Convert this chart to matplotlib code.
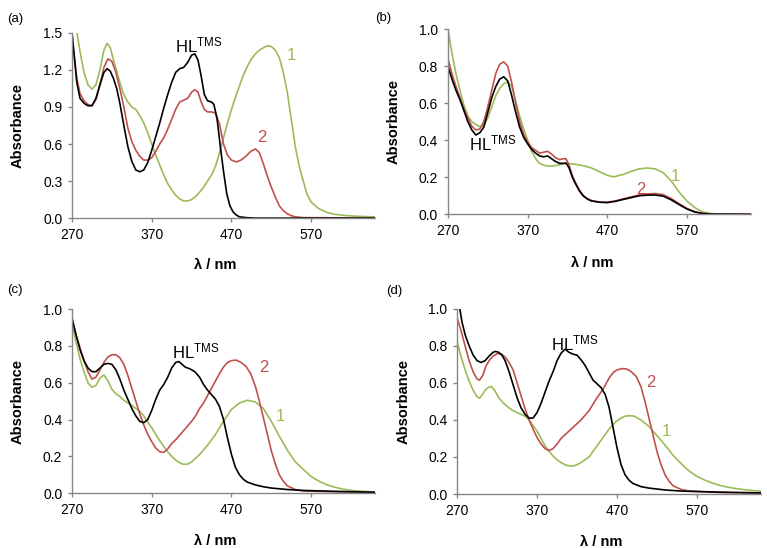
import numpy as np
import matplotlib
matplotlib.use('Agg')
import matplotlib.pyplot as plt

plt.rcParams['font.family'] = ['Liberation Sans', 'DejaVu Sans']
plt.rcParams['mathtext.default'] = 'regular'

# ---- (a) ----
a_hl_x = [270, 273, 276, 280, 285, 290, 295, 300, 305, 310, 314, 318, 322, 326, 330, 335, 340, 345,
          350, 355, 360, 365, 370, 375, 380, 385, 390, 395, 400, 405, 410, 415, 420, 424, 428, 432,
          436, 440, 445, 448, 452, 456, 460, 464, 468, 472, 476, 480, 490, 500, 650]
a_hl_y = [1.49, 1.30, 1.10, 0.97, 0.93, 0.91, 0.91, 0.97, 1.08, 1.18, 1.21, 1.19, 1.13, 1.05, 0.93,
          0.75, 0.58, 0.46, 0.39, 0.375, 0.39, 0.45, 0.55, 0.66, 0.77, 0.89, 1.00, 1.10, 1.18, 1.21,
          1.22, 1.26, 1.32, 1.33, 1.28, 1.15, 1.00, 0.95, 0.94, 0.92, 0.80, 0.58, 0.38, 0.20, 0.10,
          0.05, 0.025, 0.01, 0.003, 0.0, 0.0]
a_2_x = [270, 273, 276, 280, 285, 290, 295, 300, 305, 310, 315, 320, 325, 330, 335, 340, 345, 350,
         355, 360, 365, 370, 375, 380, 385, 390, 395, 400, 405, 410, 415, 420, 424, 428, 432, 436,
         440, 445, 450, 455, 460, 465, 470, 476, 482, 488, 494, 500, 505, 510, 515, 520, 525, 530,
         535, 540, 545, 550, 560, 650]
a_2_y = [1.50, 1.30, 1.13, 1.01, 0.95, 0.92, 0.91, 0.96, 1.08, 1.22, 1.29, 1.27, 1.18, 1.05, 0.90,
         0.73, 0.62, 0.55, 0.50, 0.47, 0.47, 0.49, 0.54, 0.60, 0.65, 0.72, 0.80, 0.88, 0.94, 0.955,
         0.97, 1.02, 1.04, 1.02, 0.94, 0.88, 0.86, 0.86, 0.85, 0.76, 0.60, 0.51, 0.47, 0.455, 0.47,
         0.50, 0.54, 0.56, 0.53, 0.44, 0.34, 0.25, 0.17, 0.10, 0.06, 0.035, 0.02, 0.01, 0.004, 0.0]
a_1_x = [270, 273, 276, 280, 285, 290, 295, 300, 305, 310, 314, 318, 322, 326, 330, 335, 340, 345,
         350, 355, 360, 365, 370, 375, 380, 385, 390, 395, 400, 405, 410, 415, 420, 425, 430, 435,
         440, 445, 450, 455, 460, 465, 470, 475, 480, 485, 490, 495, 500, 505, 510, 515, 520, 525,
         530, 535, 540, 545, 550, 555, 560, 565, 570, 575, 580, 590, 600, 615, 630, 650]
a_1_y = [1.75, 1.62, 1.51, 1.35, 1.18, 1.08, 1.045, 1.08, 1.20, 1.36, 1.415, 1.38, 1.28, 1.19, 1.10,
         1.00, 0.94, 0.90, 0.88, 0.83, 0.77, 0.69, 0.60, 0.51, 0.43, 0.35, 0.28, 0.23, 0.185, 0.155,
         0.14, 0.138, 0.15, 0.175, 0.21, 0.25, 0.30, 0.35, 0.42, 0.53, 0.65, 0.77, 0.88, 0.98, 1.07,
         1.16, 1.23, 1.29, 1.33, 1.36, 1.38, 1.395, 1.39, 1.36, 1.30, 1.18, 1.02, 0.80, 0.58, 0.42,
         0.30, 0.19, 0.13, 0.10, 0.075, 0.045, 0.03, 0.02, 0.014, 0.01]

# ---- (b) ----
b_hl_x = [270, 275, 280, 285, 290, 295, 300, 305, 310, 315, 320, 325, 330, 335, 340, 345, 350, 355,
          360, 365, 370, 375, 380, 385, 390, 395, 400, 405, 410, 415, 418, 422, 426, 430, 435, 440,
          445, 450, 460, 470, 480, 490, 500, 510, 520, 530, 540, 550, 560, 570, 580, 590, 600, 650]
b_hl_y = [0.80, 0.73, 0.67, 0.62, 0.56, 0.50, 0.455, 0.428, 0.44, 0.47, 0.55, 0.63, 0.69, 0.73,
          0.742, 0.72, 0.64, 0.55, 0.47, 0.415, 0.38, 0.35, 0.33, 0.315, 0.31, 0.315, 0.30, 0.285,
          0.275, 0.275, 0.277, 0.25, 0.20, 0.165, 0.125, 0.098, 0.082, 0.072, 0.065, 0.063, 0.07,
          0.08, 0.09, 0.10, 0.103, 0.104, 0.098, 0.078, 0.052, 0.028, 0.012, 0.004, 0.001, 0.0]
b_2_x = b_hl_x
b_2_y = [0.84, 0.76, 0.69, 0.63, 0.57, 0.52, 0.475, 0.455, 0.46, 0.50, 0.58, 0.67, 0.76, 0.81,
         0.823, 0.80, 0.71, 0.60, 0.50, 0.43, 0.39, 0.36, 0.345, 0.33, 0.335, 0.34, 0.325, 0.305,
         0.295, 0.30, 0.30, 0.265, 0.21, 0.17, 0.13, 0.10, 0.084, 0.074, 0.066, 0.065, 0.072, 0.083,
         0.094, 0.104, 0.11, 0.112, 0.106, 0.085, 0.057, 0.031, 0.013, 0.005, 0.001, 0.0]
b_1_x = [270, 275, 280, 285, 290, 295, 300, 305, 310, 315, 320, 325, 330, 335, 340, 345, 350, 355,
         360, 365, 370, 375, 380, 385, 390, 395, 400, 405, 410, 415, 420, 430, 440, 450, 460, 470,
         478, 485, 490, 500, 510, 520, 530, 540, 550, 560, 570, 580, 590, 600, 610, 650]
b_1_y = [1.0, 0.87, 0.76, 0.67, 0.59, 0.53, 0.50, 0.485, 0.472, 0.48, 0.52, 0.58, 0.64, 0.68, 0.705,
         0.715, 0.69, 0.61, 0.53, 0.46, 0.40, 0.34, 0.30, 0.275, 0.265, 0.26, 0.26, 0.263, 0.267,
         0.272, 0.275, 0.27, 0.262, 0.25, 0.23, 0.21, 0.202, 0.21, 0.215, 0.232, 0.245, 0.25, 0.245,
         0.225, 0.18, 0.12, 0.07, 0.035, 0.012, 0.004, 0.001, 0.0]

# ---- (c) ----
c_hl_x = [270, 275, 280, 285, 290, 295, 300, 305, 310, 315, 320, 325, 330, 335, 340, 345, 350, 355,
          360, 365, 370, 375, 380, 385, 390, 395, 400, 404, 408, 412, 418, 424, 430, 435, 440, 445,
          450, 455, 460, 465, 470, 475, 480, 485, 490, 500, 510, 520, 540, 560, 600, 650]
c_hl_y = [0.95, 0.86, 0.78, 0.72, 0.68, 0.66, 0.66, 0.68, 0.70, 0.705, 0.70, 0.67, 0.62, 0.56, 0.51,
          0.46, 0.42, 0.39, 0.383, 0.40, 0.45, 0.51, 0.56, 0.59, 0.63, 0.68, 0.71, 0.715, 0.70, 0.685,
          0.675, 0.66, 0.63, 0.59, 0.56, 0.535, 0.51, 0.47, 0.40, 0.30, 0.21, 0.14, 0.10, 0.075, 0.06,
          0.045, 0.035, 0.028, 0.02, 0.015, 0.01, 0.005]
c_2_x = [270, 275, 280, 285, 290, 295, 300, 305, 310, 315, 320, 325, 330, 335, 340, 345, 350, 355,
         360, 365, 370, 375, 380, 385, 390, 395, 400, 405, 410, 415, 420, 425, 430, 435, 440, 445,
         450, 455, 460, 465, 470, 476, 482, 488, 494, 500, 505, 510, 515, 520, 525, 530, 535, 540,
         550, 560, 600, 650]
c_2_y = [0.95, 0.86, 0.79, 0.72, 0.66, 0.62, 0.63, 0.67, 0.71, 0.74, 0.752, 0.752, 0.735, 0.70, 0.64,
         0.57, 0.50, 0.43, 0.37, 0.32, 0.28, 0.245, 0.225, 0.222, 0.24, 0.27, 0.29, 0.315, 0.34, 0.365,
         0.39, 0.42, 0.46, 0.49, 0.53, 0.57, 0.61, 0.65, 0.685, 0.71, 0.72, 0.723, 0.71, 0.69, 0.65,
         0.58, 0.50, 0.41, 0.32, 0.23, 0.16, 0.10, 0.065, 0.04, 0.02, 0.012, 0.008, 0.005]
c_1_x = [270, 275, 280, 285, 290, 295, 300, 305, 310, 315, 320, 325, 330, 335, 340, 345, 350, 355,
         360, 365, 370, 375, 380, 385, 390, 395, 400, 405, 410, 415, 420, 425, 430, 440, 450, 460,
         470, 480, 490, 500, 510, 520, 530, 540, 550, 560, 570, 580, 590, 600, 610, 620, 635, 650]
c_1_y = [0.92, 0.82, 0.73, 0.66, 0.60, 0.575, 0.585, 0.625, 0.642, 0.61, 0.565, 0.54, 0.525, 0.505,
         0.49, 0.477, 0.46, 0.445, 0.42, 0.385, 0.355, 0.32, 0.285, 0.255, 0.225, 0.20, 0.18, 0.165,
         0.157, 0.158, 0.17, 0.19, 0.21, 0.26, 0.32, 0.39, 0.455, 0.49, 0.505, 0.495, 0.46, 0.39,
         0.31, 0.234, 0.17, 0.13, 0.09, 0.065, 0.045, 0.032, 0.022, 0.015, 0.01, 0.007]

# ---- (d) ----
d_hl_x = [270, 273, 276, 280, 285, 290, 295, 300, 305, 310, 315, 318, 322, 326, 330, 335, 340, 345,
          350, 355, 360, 365, 370, 375, 380, 385, 390, 395, 400, 405, 410, 415, 420, 425, 430, 435,
          440, 445, 450, 455, 460, 465, 470, 475, 480, 485, 490, 500, 510, 530, 550, 600, 650]
d_hl_y = [1.08, 1.01, 0.93, 0.86, 0.80, 0.75, 0.72, 0.71, 0.72, 0.745, 0.765, 0.77, 0.765, 0.75,
          0.72, 0.66, 0.59, 0.52, 0.465, 0.43, 0.41, 0.41, 0.44, 0.49, 0.55, 0.61, 0.66, 0.72, 0.76,
          0.782, 0.765, 0.755, 0.75, 0.725, 0.695, 0.655, 0.615, 0.595, 0.575, 0.54, 0.47, 0.36, 0.25,
          0.16, 0.105, 0.075, 0.057, 0.04, 0.032, 0.022, 0.016, 0.01, 0.006]
d_2_x = [270, 275, 280, 285, 290, 295, 298, 302, 306, 310, 315, 320, 325, 330, 335, 340, 345, 350,
         355, 360, 365, 370, 375, 380, 385, 390, 395, 400, 405, 410, 415, 420, 425, 430, 435, 440,
         445, 450, 455, 460, 465, 470, 476, 482, 488, 494, 500, 505, 510, 515, 520, 525, 530, 535,
         540, 550, 560, 600, 650]
d_2_y = [0.95, 0.88, 0.80, 0.72, 0.66, 0.62, 0.615, 0.64, 0.69, 0.72, 0.745, 0.757, 0.757, 0.74,
         0.71, 0.67, 0.60, 0.53, 0.46, 0.40, 0.35, 0.305, 0.27, 0.245, 0.235, 0.245, 0.27, 0.30,
         0.32, 0.34, 0.36, 0.38, 0.40, 0.425, 0.45, 0.485, 0.52, 0.55, 0.585, 0.625, 0.655, 0.67,
         0.677, 0.675, 0.66, 0.635, 0.58, 0.50, 0.41, 0.32, 0.23, 0.16, 0.105, 0.07, 0.045, 0.025,
         0.016, 0.008, 0.005]
d_1_x = [270, 275, 280, 285, 290, 295, 298, 302, 306, 310, 313, 317, 322, 328, 335, 340, 345, 350,
         355, 360, 365, 370, 375, 380, 385, 390, 395, 400, 405, 410, 415, 420, 425, 430, 435, 440,
         445, 450, 455, 460, 465, 470, 475, 480, 486, 492, 500, 510, 520, 530, 540, 550, 560, 570,
         580, 590, 600, 615, 630, 650]
d_1_y = [0.82, 0.74, 0.67, 0.61, 0.56, 0.525, 0.517, 0.54, 0.565, 0.578, 0.58, 0.56, 0.52, 0.49,
         0.465, 0.45, 0.44, 0.43, 0.42, 0.40, 0.37, 0.34, 0.30, 0.26, 0.23, 0.205, 0.185, 0.17, 0.158,
         0.152, 0.151, 0.158, 0.17, 0.185, 0.20, 0.23, 0.26, 0.29, 0.32, 0.35, 0.375, 0.395, 0.41,
         0.42, 0.423, 0.42, 0.40, 0.365, 0.315, 0.265, 0.21, 0.165, 0.125, 0.095, 0.075, 0.058,
         0.045, 0.032, 0.023, 0.015]

x_ticks = [270, 370, 470, 570]
c_black = '#000000'
c_red = '#c0504d'
c_green = '#9bbb59'
spine_col = '#868686'

fig = plt.figure(figsize=(7.67, 5.48), dpi=100)

panels = [
    dict(rect=[0.0939, 0.602, 0.395, 0.338], ymax=1.5, ystep=0.3,
         hl=(a_hl_x, a_hl_y), s2=(a_2_x, a_2_y), s1=(a_1_x, a_1_y),
         hl_pos=(399, 1.34), p2=(502, 0.62), p1=(539, 1.28),
         tag='(a)', tag_xy=(7, 19), lab=(-0.155, -0.216, 0.472)),
    dict(rect=[0.584, 0.609, 0.395, 0.338], ymax=1.0, ystep=0.2,
         hl=(b_hl_x, b_hl_y), s2=(b_2_x, b_2_y), s1=(b_1_x, b_1_y),
         hl_pos=(296, 0.345), p2=(506, 0.11), p1=(550, 0.18),
         tag='(b)', tag_xy=(375, 18), lab=(-0.156, -0.227, 0.475)),
    dict(rect=[0.0939, 0.100, 0.395, 0.336], ymax=1.0, ystep=0.2,
         hl=(c_hl_x, c_hl_y), s2=(c_2_x, c_2_y), s1=(c_1_x, c_1_y),
         hl_pos=(396, 0.73), p2=(505, 0.66), p1=(526, 0.39),
         tag='(c)', tag_xy=(7, 290), lab=(-0.155, -0.223, 0.472)),
    dict(rect=[0.596, 0.0985, 0.396, 0.338], ymax=1.0, ystep=0.2,
         hl=(d_hl_x, d_hl_y), s2=(d_2_x, d_2_y), s1=(d_1_x, d_1_y),
         hl_pos=(387, 0.775), p2=(506, 0.58), p1=(526, 0.315),
         tag='(d)', tag_xy=(386, 291), lab=(-0.153, -0.222, 0.473)),
]

for p in panels:
    ax = fig.add_axes(p['rect'])
    kw = dict(lw=1.2, solid_joinstyle='round', solid_capstyle='round')
    ax.plot(*p['s1'], color=c_green, **kw)
    ax.plot(*p['s2'], color=c_red, **kw)
    ax.plot(*p['hl'], color=c_black, **kw)
    ax.set_xlim(270, 650)
    ax.set_ylim(0, p['ymax'])
    ax.set_xticks(x_ticks)
    yt = np.arange(0, p['ymax'] + 1e-9, p['ystep'])
    ax.set_yticks(yt)
    ax.set_yticklabels(['%.1f' % v for v in yt])
    for s in ['top', 'right']:
        ax.spines[s].set_visible(False)
    for s in ['left', 'bottom']:
        ax.spines[s].set_color(spine_col)
        ax.spines[s].set_linewidth(1.0)
    ax.tick_params(direction='out', length=3, width=1.0, color=spine_col,
                   labelsize=10, pad=4, labelcolor='#000000')
    ax.set_ylabel('Absorbance', fontsize=10.5, fontweight='bold')
    ax.set_xlabel('λ / nm', fontsize=10.5, fontweight='bold')
    ax.yaxis.set_label_coords(p['lab'][0], 0.5)
    ax.xaxis.set_label_coords(p['lab'][2], p['lab'][1])

    ax.text(p['hl_pos'][0], p['hl_pos'][1], 'HL$^{TMS}$', color=c_black, fontsize=12,
            ha='left', va='baseline')
    ax.text(p['p2'][0], p['p2'][1], '2', color=c_red, fontsize=12, ha='left', va='baseline')
    ax.text(p['p1'][0], p['p1'][1], '1', color=c_green, fontsize=12, ha='left', va='baseline')

    fig.text(p['tag_xy'][0] / 767, 1 - p['tag_xy'][1] / 548, p['tag'], fontsize=9.5,
             ha='left', va='center')

fig.savefig('out.png', dpi=100)
